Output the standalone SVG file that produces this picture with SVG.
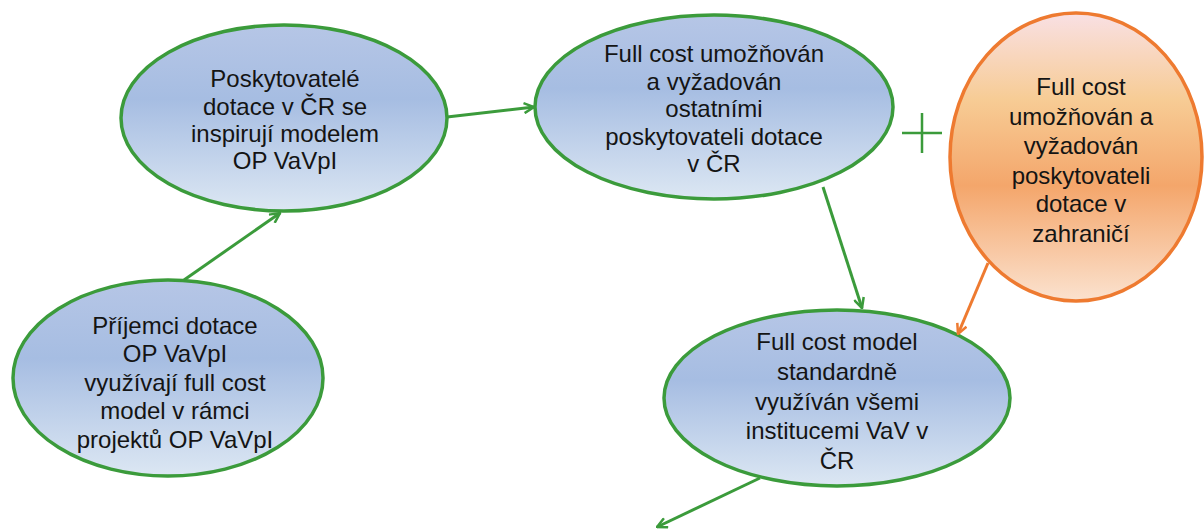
<svg xmlns="http://www.w3.org/2000/svg" width="1204" height="529" viewBox="0 0 1204 529">
<style>
.blue{fill:url(#gb);stroke:#3b9b3b;stroke-width:3.5}
.org{fill:url(#go);stroke:#ee7a30;stroke-width:3.5}
text{font-family:"Liberation Sans",Arial,sans-serif;font-size:24px;fill:#141414;text-anchor:middle}
.cg{fill:none;stroke:#3b9b3b;stroke-width:3}
.co{fill:none;stroke:#ee7a30;stroke-width:3}
</style>
<defs>
<linearGradient id="gb" x1="0" y1="0" x2="0" y2="1">
<stop offset="0" stop-color="#b6c6e6"/>
<stop offset="0.4" stop-color="#a6bde2"/>
<stop offset="1" stop-color="#dce7f3"/>
</linearGradient>
<linearGradient id="go" x1="0" y1="0" x2="0" y2="1">
<stop offset="0" stop-color="#f9e0e4"/>
<stop offset="0.3" stop-color="#f7cc95"/>
<stop offset="0.6" stop-color="#f4a66b"/>
<stop offset="1" stop-color="#fbe2cf"/>
</linearGradient>
<marker id="ag" viewBox="0 0 12 12" refX="11" refY="6" markerWidth="12" markerHeight="12" markerUnits="userSpaceOnUse" orient="auto">
<path d="M1,1 L11,6 L1,11" fill="none" stroke="#3b9b3b" stroke-width="2.5"/>
</marker>
<marker id="ao" viewBox="0 0 12 12" refX="11" refY="6" markerWidth="12" markerHeight="12" markerUnits="userSpaceOnUse" orient="auto">
<path d="M1,1 L11,6 L1,11" fill="none" stroke="#ee7a30" stroke-width="2.5"/>
</marker>
</defs>
<rect width="1204" height="529" fill="#ffffff"/>
<g id="n1">
<ellipse class="blue" cx="284" cy="118" rx="163" ry="93"/>
<text x="285" y="87">Poskytovatelé</text>
<text x="285" y="114.5">dotace v ČR se</text>
<text x="285" y="142">inspirují modelem</text>
<text x="285" y="169">OP VaVpI</text>
</g>
<g id="n2">
<ellipse class="blue" cx="714" cy="107" rx="179" ry="92"/>
<text x="714" y="62">Full cost umožňován</text>
<text x="714" y="89.5">a vyžadován</text>
<text x="714" y="117">ostatními</text>
<text x="714" y="144.5">poskytovateli dotace</text>
<text x="714" y="172">v ČR</text>
</g>
<g id="n3">
<ellipse class="org" cx="1076" cy="157" rx="126" ry="144"/>
<text x="1081" y="95">Full cost</text>
<text x="1081" y="124.5">umožňován a</text>
<text x="1081" y="154">vyžadován</text>
<text x="1081" y="183.5">poskytovateli</text>
<text x="1081" y="212">dotace v</text>
<text x="1081" y="242">zahraničí</text>
</g>
<g id="plus">
<path d="M902,133 H942 M922,113 V153" fill="none" stroke="#3b9b3b" stroke-width="2.5"/>
</g>
<g id="n4">
<ellipse class="blue" cx="168" cy="378" rx="155" ry="98"/>
<text x="175" y="333.5">Příjemci dotace</text>
<text x="175" y="362">OP VaVpI</text>
<text x="175" y="390.5">využívají full cost</text>
<text x="175" y="419">model v rámci</text>
<text x="175" y="448">projektů OP VaVpI</text>
</g>
<g id="n5">
<ellipse class="blue" cx="837" cy="398" rx="173" ry="88"/>
<text x="837" y="350">Full cost model</text>
<text x="837" y="380">standardně</text>
<text x="837" y="409.5">využíván všemi</text>
<text x="837" y="439">institucemi VaV v</text>
<text x="837" y="468.5">ČR</text>
</g>
<g id="connectors">
<line class="cg" x1="184" y1="280" x2="280" y2="213" marker-end="url(#ag)"/>
<line class="cg" x1="447" y1="117" x2="534" y2="107" marker-end="url(#ag)"/>
<line class="cg" x1="823" y1="187" x2="862" y2="308" marker-end="url(#ag)"/>
<line class="co" x1="988" y1="263" x2="958" y2="334" marker-end="url(#ao)"/>
<line class="cg" x1="760" y1="478" x2="657" y2="527" marker-end="url(#ag)"/>
</g>
</svg>
